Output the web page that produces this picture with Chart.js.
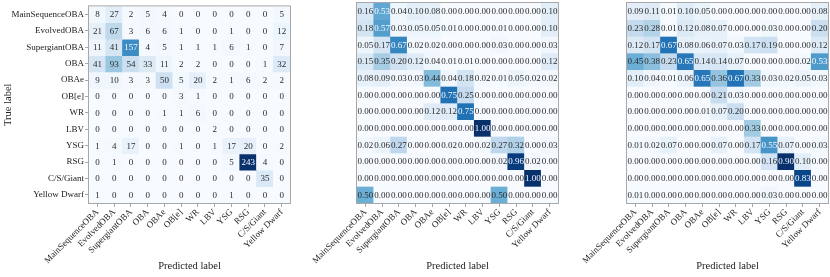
<!DOCTYPE html>
<html><head><meta charset="utf-8">
<script src="https://cdn.jsdelivr.net/npm/chart.js@4"></script>
<style>
html,body{margin:0;padding:0;background:#fff;width:830px;height:277px;overflow:hidden}
canvas{position:absolute;top:0}
</style></head><body>
<canvas id="c1" width="293" height="277" style="left:0;width:293px;height:277px"></canvas>
<canvas id="c2" width="293" height="277" style="left:268px;width:293px;height:277px"></canvas>
<canvas id="c3" width="292" height="277" style="left:538px;width:292px;height:277px"></canvas>
<script>
const trueLabels = ['MainSequenceOBA','EvolvedOBA','SupergiantOBA','OBA','OBAe','OB[e]','WR','LBV','YSG','RSG','C/S/Giant','Yellow Dwarf'];
const predLabels = ['MainSequenceOBA','EvolvedOBA','SupergiantOBA','OBA','OBAe','OB[e]','WR','LBV','YSG','RSG','C/S/Giant','Yellow Dwarf'];

const counts = [
  [8,27,2,5,4,0,0,0,0,0,0,5],
  [21,67,3,6,6,1,0,0,1,0,0,12],
  [11,41,157,4,5,1,1,1,6,1,0,7],
  [41,93,54,33,11,2,2,0,0,0,1,32],
  [9,10,3,3,50,5,20,2,1,6,2,2],
  [0,0,0,0,0,3,1,0,0,0,0,0],
  [0,0,0,0,1,1,6,0,0,0,0,0],
  [0,0,0,0,0,0,0,2,0,0,0,0],
  [1,4,17,0,0,1,0,1,17,20,0,2],
  [0,1,0,0,0,0,0,0,5,243,4,0],
  [0,0,0,0,0,0,0,0,0,0,35,0],
  [1,0,0,0,0,0,0,0,1,0,0,0]
];
const recall = [
  [0.16,0.53,0.04,0.10,0.08,0,0,0,0,0,0,0.10],
  [0.18,0.57,0.03,0.05,0.05,0.01,0,0,0.01,0,0,0.10],
  [0.05,0.17,0.67,0.02,0.02,0,0,0,0.03,0,0,0.03],
  [0.15,0.35,0.20,0.12,0.04,0.01,0.01,0,0,0,0,0.12],
  [0.08,0.09,0.03,0.03,0.44,0.04,0.18,0.02,0.01,0.05,0.02,0.02],
  [0,0,0,0,0,0.75,0.25,0,0,0,0,0],
  [0,0,0,0,0.12,0.12,0.75,0,0,0,0,0],
  [0,0,0,0,0,0,0,1.00,0,0,0,0],
  [0.02,0.06,0.27,0,0,0.02,0,0.02,0.27,0.32,0,0.03],
  [0,0,0,0,0,0,0,0,0.02,0.96,0.02,0],
  [0,0,0,0,0,0,0,0,0,0,1.00,0],
  [0.50,0,0,0,0,0,0,0,0.50,0,0,0]
];
const precision = [
  [0.09,0.11,0.01,0.10,0.05,0,0,0,0,0,0,0.08],
  [0.23,0.28,0.01,0.12,0.08,0.07,0,0,0.03,0,0,0.20],
  [0.12,0.17,0.67,0.08,0.06,0.07,0.03,0.17,0.19,0,0,0.12],
  [0.45,0.38,0.23,0.65,0.14,0.14,0.07,0,0,0,0.02,0.53],
  [0.10,0.04,0.01,0.06,0.65,0.36,0.67,0.33,0.03,0.02,0.05,0.03],
  [0,0,0,0,0,0.21,0.03,0,0,0,0,0],
  [0,0,0,0,0.01,0.07,0.20,0,0,0,0,0],
  [0,0,0,0,0,0,0,0.33,0,0,0,0],
  [0.01,0.02,0.07,0,0,0.07,0,0.17,0.55,0.07,0,0.03],
  [0,0,0,0,0,0,0,0,0.16,0.90,0.10,0],
  [0,0,0,0,0,0,0,0,0,0,0.83,0],
  [0.01,0,0,0,0,0,0,0,0.03,0,0,0]
];

const FONT = '"Liberation Serif", "DejaVu Serif", serif';
const BLUES = ['#f7fbff','#deebf7','#c6dbef','#9ecae1','#6baed6','#4292c6','#2171b5','#08519c','#08306b'];
function hex(h){return [parseInt(h.slice(1,3),16),parseInt(h.slice(3,5),16),parseInt(h.slice(5,7),16)];}
function blues(t){
  t = Math.min(1, Math.max(0, t));
  const s = t * 8, i = Math.min(7, Math.floor(s)), f = s - i;
  const a = hex(BLUES[i]), b = hex(BLUES[i+1]);
  return 'rgb(' + a.map((v,k)=>Math.round(v + (b[k]-v)*f)).join(',') + ')';
}
const EDGE = '#a8a8a8';

function makeChart(id, values, fmt, showY, yWidth, padRight) {
  const flat = values.flat();
  const vmax = Math.max(...flat), vmin = Math.min(...flat);
  const thr = (vmax + vmin) / 2;
  const datasets = values.map((row, r) => ({
    data: row.map(() => [r - 0.5, r + 0.5]),
    backgroundColor: row.map(v => blues((v - vmin) / (vmax - vmin))),
    grouped: false, barPercentage: 1, categoryPercentage: 1,
    borderWidth: 0, borderSkipped: false
  }));
  const textPlugin = {
    id: 'cellText' + id,
    afterDatasetsDraw(chart) {
      const ctx = chart.ctx;
      ctx.save();
      ctx.font = '9px ' + FONT;
      ctx.textAlign = 'center';
      ctx.textBaseline = 'middle';
      chart.data.datasets.forEach((ds, r) => {
        chart.getDatasetMeta(r).data.forEach((el, c) => {
          const v = values[r][c];
          const p = el.getCenterPoint();
          ctx.fillStyle = v > thr ? '#f7fbff' : '#2b2b2b';
          ctx.fillText(fmt(v), p.x, p.y + 0.5);
        });
      });
      const a = chart.chartArea;
      ctx.strokeStyle = EDGE;
      ctx.lineWidth = 1;
      ctx.strokeRect(a.left - 0.5, a.top - 0.5, a.right - a.left + 1, a.bottom - a.top + 1);
      ctx.restore();
    }
  };
  return new Chart(document.getElementById(id), {
    type: 'bar',
    data: { labels: predLabels, datasets },
    plugins: [textPlugin],
    options: {
      responsive: false, animation: false, events: [],
      layout: { padding: { top: 3, right: padRight, left: 0, bottom: 0 } },
      plugins: { legend: { display: false }, tooltip: { enabled: false } },
      scales: {
        x: {
          type: 'category', offset: true,
          grid: { display: true, offset: false, drawOnChartArea: false, drawTicks: true, tickLength: 4, color: EDGE },
          border: { display: false },
          ticks: { autoSkip: false, maxRotation: 45, minRotation: 45, padding: 0, color: '#222', font: { family: FONT, size: 9 } },
          title: { display: true, text: 'Predicted label', color: '#222', font: { family: FONT, size: 10.5 }, padding: { top: 0, bottom: 4 } },
          afterFit(s) { s.height = 74; }
        },
        y: {
          type: 'linear', min: -0.5, max: 11.5, reverse: true,
          afterBuildTicks(s) { s.ticks = trueLabels.map((_, i) => ({ value: i })); },
          grid: { display: true, drawOnChartArea: false, drawTicks: showY, tickLength: 4, color: EDGE },
          border: { display: false },
          ticks: { display: showY, autoSkip: false, padding: 1, color: '#222', font: { family: FONT, size: 9 },
                   callback: (v) => trueLabels[v] },
          title: { display: showY, text: 'True label', color: '#222', font: { family: FONT, size: 10.5 }, padding: { top: 2, bottom: 0 } },
          afterFit(s) { s.width = yWidth; }
        }
      }
    }
  });
}

makeChart('c1', counts, v => String(v), true, 89, 3);
makeChart('c2', recall, v => v.toFixed(2), false, 89, 3);
makeChart('c3', precision, v => v.toFixed(2), false, 89, 2);
</script>
</body></html>
